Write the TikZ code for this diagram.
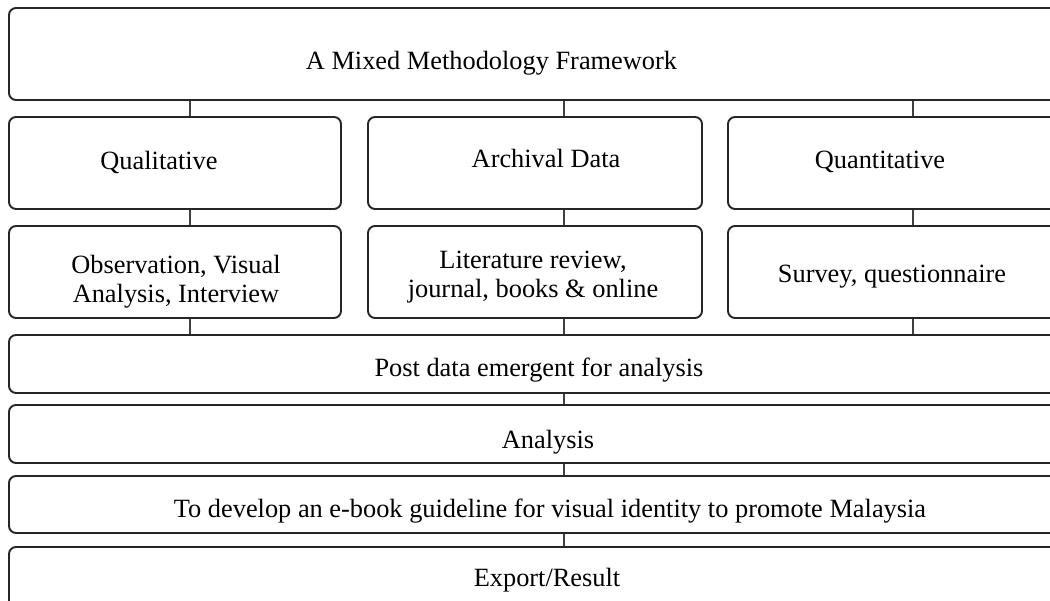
\documentclass[tikz,border=0pt]{standalone}
\usepackage{fontspec}
\setmainfont{Liberation Serif}

\begin{document}
\begin{tikzpicture}[
		box/.style={draw=black!85,line width=1.1pt,rounded corners=4pt,inner sep=0pt},
		txt/.style={font=\fontsize{15}{16.5}\selectfont,align=center,inner sep=0pt},
		link/.style={draw=black!75,line width=0.6pt}]
		\useasboundingbox (0,0) rectangle (21,-12.02);
		\clip (0,0) rectangle (21,-12.02);
		\node[box,minimum width=21.42cm,minimum height=1.84cm] (frame) at (10.89,-1.08) {};
		\node[box,minimum width=6.64cm,minimum height=1.84cm] (qual) at (3.50,-3.26) {};
		\node[box,minimum width=6.68cm,minimum height=1.84cm] (arch) at (10.70,-3.26) {};
		\node[box,minimum width=7.04cm,minimum height=1.84cm] (quant) at (18.08,-3.26) {};
		\node[box,minimum width=6.64cm,minimum height=1.84cm] (obs) at (3.50,-5.44) {};
		\node[box,minimum width=6.68cm,minimum height=1.84cm] (lit) at (10.70,-5.44) {};
		\node[box,minimum width=7.04cm,minimum height=1.84cm] (survey) at (18.08,-5.44) {};
		\node[box,minimum width=21.42cm,minimum height=1.16cm] (post) at (10.89,-7.28) {};
		\node[box,minimum width=21.42cm,minimum height=1.16cm] (anal) at (10.89,-8.68) {};
		\node[box,minimum width=21.42cm,minimum height=1.14cm] (dev) at (10.89,-10.09) {};
		\node[box,minimum width=21.42cm,minimum height=1.36cm] (export) at (10.89,-11.62) {};
		\node[txt] (frametxt) at (9.83,-1.26) {A Mixed Methodology Framework};
		\node[txt] (qualtxt) at (3.18,-3.24) {Qualitative};
		\node[txt] (archtxt) at (10.92,-3.16) {Archival Data};
		\node[txt] (quanttxt) at (17.60,-3.24) {Quantitative};
		\node[txt] (obstxt) at (3.52,-5.63) {Observation, Visual\\Analysis, Interview};
		\node[txt] (littxt) at (10.66,-5.54) {Literature review,\\journal, books \& online};
		\node[txt] (surveytxt) at (17.84,-5.54) {Survey, questionnaire};
		\node[txt] (posttxt) at (10.78,-7.40) {Post data emergent for analysis};
		\node[txt] (analtxt) at (10.96,-8.84) {Analysis};
		\node[txt] (devtxt) at (11.00,-10.22) {To develop an e-book guideline for visual identity to promote Malaysia};
		\node[txt] (exporttxt) at (10.94,-11.60) {Export/Result};
		\coordinate (c1) at (3.80,0);
		\coordinate (c2) at (11.28,0);
		\coordinate (c3) at (18.26,0);
		\foreach \c/\a/\b in {c1/qual/obs,c2/arch/lit,c3/quant/survey} {
				\draw[link] (\c |- frame.south) -- (\c |- \a.north);
				\draw[link] (\c |- \a.south) -- (\c |- \b.north);
				\draw[link] (\c |- \b.south) -- (\c |- post.north);
			}
		\foreach \a/\b in {post/anal,anal/dev,dev/export} {
				\draw[link] (c2 |- \a.south) -- (c2 |- \b.north);
			}
	\end{tikzpicture}
\end{document}
